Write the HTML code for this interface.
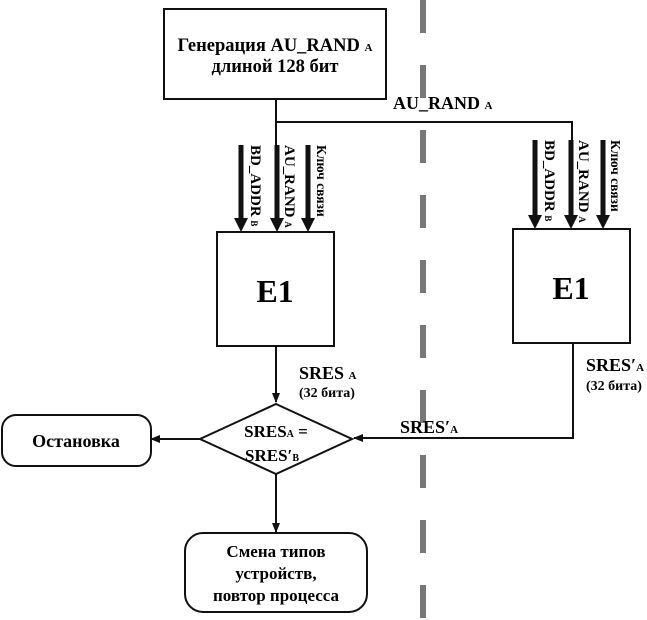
<!DOCTYPE html>
<html><head><meta charset="utf-8"><style>
html,body{margin:0;padding:0;background:#fff;}
svg{display:block;font-family:"Liberation Serif","DejaVu Serif",serif;font-weight:bold;}
</style></head><body>
<svg width="647" height="620" viewBox="0 0 647 620" xmlns="http://www.w3.org/2000/svg">
<defs>
<marker id="ah" markerWidth="10" markerHeight="10" refX="9" refY="5" orient="auto" markerUnits="userSpaceOnUse"><path d="M0,1 L10,5 L0,9 Z" fill="#111"/></marker>
</defs>
<line x1="423" y1="0" x2="423" y2="620" stroke="#777" stroke-width="6" stroke-dasharray="33 32"/>
<rect x="164" y="9" width="222" height="90" fill="#fff" stroke="#111" stroke-width="2"/>
<text x="275" y="51" font-size="18.5" text-anchor="middle">Генерация AU_RAND <tspan font-size="11">A</tspan></text>
<text x="275" y="72" font-size="18.5" text-anchor="middle">длиной 128 бит</text>
<polyline points="276,99 276,122 572,122 572,140" fill="none" stroke="#111" stroke-width="2"/>
<line x1="276" y1="122" x2="276" y2="145" stroke="#111" stroke-width="2"/>
<text x="393" y="109" font-size="18">AU_RAND <tspan font-size="11">A</tspan></text>
<g stroke="#111" stroke-width="5">
<line x1="241" y1="145" x2="241" y2="220"/><line x1="277" y1="145" x2="277" y2="220"/><line x1="308" y1="145" x2="308" y2="220"/>
<line x1="535" y1="140" x2="535" y2="217"/><line x1="571" y1="140" x2="571" y2="217"/><line x1="603" y1="140" x2="603" y2="217"/>
</g>
<g fill="#111">
<path d="M234,218 L248,218 L241,232 Z"/><path d="M270,218 L284,218 L277,232 Z"/><path d="M301,218 L315,218 L308,232 Z"/>
<path d="M528,215 L542,215 L535,229 Z"/><path d="M564,215 L578,215 L571,229 Z"/><path d="M596,215 L610,215 L603,229 Z"/>
</g>
<g font-size="15">
<text transform="translate(251,145) rotate(90)">BD_ADDR <tspan font-size="9">B</tspan></text>
<text transform="translate(285,145) rotate(90)">AU_RAND <tspan font-size="9">A</tspan></text>
<text transform="translate(317,145) rotate(90)" font-size="13.5">Ключ связи</text>
<text transform="translate(545,140) rotate(90)">BD_ADDR <tspan font-size="9">B</tspan></text>
<text transform="translate(579,140) rotate(90)">AU_RAND <tspan font-size="9">A</tspan></text>
<text transform="translate(611,140) rotate(90)" font-size="13.5">Ключ связи</text>
</g>
<rect x="217" y="232" width="117" height="114" fill="#fff" stroke="#111" stroke-width="2"/>
<text x="275" y="302" font-size="32" text-anchor="middle">E1</text>
<rect x="513" y="229" width="117" height="114" fill="#fff" stroke="#111" stroke-width="2"/>
<text x="571" y="299" font-size="32" text-anchor="middle">E1</text>
<line x1="276" y1="346" x2="276" y2="402" stroke="#111" stroke-width="2" marker-end="url(#ah)"/>
<text x="299" y="379" font-size="18">SRES <tspan font-size="11">A</tspan></text>
<text x="299" y="397" font-size="14">(32 бита)</text>
<polyline points="573,343 573,438 354,438" fill="none" stroke="#111" stroke-width="2" marker-end="url(#ah)"/>
<text x="586" y="371" font-size="18">SRES′<tspan font-size="11">A</tspan></text>
<text x="586" y="390" font-size="14">(32 бита)</text>
<text x="400" y="433" font-size="18">SRES′<tspan font-size="11">A</tspan></text>
<polygon points="276,404 352,439 276,474 200,439" fill="#fff" stroke="#111" stroke-width="2"/>
<text x="276" y="437" font-size="17" text-anchor="middle">SRES<tspan font-size="10">A</tspan> =</text>
<text x="272" y="461" font-size="17" text-anchor="middle">SRES′<tspan font-size="10">B</tspan></text>
<line x1="200" y1="439" x2="151" y2="439" stroke="#111" stroke-width="2" marker-end="url(#ah)"/>
<rect x="2" y="415" width="149" height="51" rx="14" fill="#fff" stroke="#111" stroke-width="2"/>
<text x="76" y="447" font-size="18" text-anchor="middle">Остановка</text>
<line x1="276" y1="474" x2="276" y2="532" stroke="#111" stroke-width="2" marker-end="url(#ah)"/>
<rect x="185" y="533" width="182" height="79" rx="18" fill="#fff" stroke="#111" stroke-width="2"/>
<text x="276" y="557" font-size="17" text-anchor="middle">Смена типов</text>
<text x="276" y="579" font-size="17" text-anchor="middle">устройств,</text>
<text x="276" y="601" font-size="17" text-anchor="middle">повтор процесса</text>
</svg>
</body></html>
